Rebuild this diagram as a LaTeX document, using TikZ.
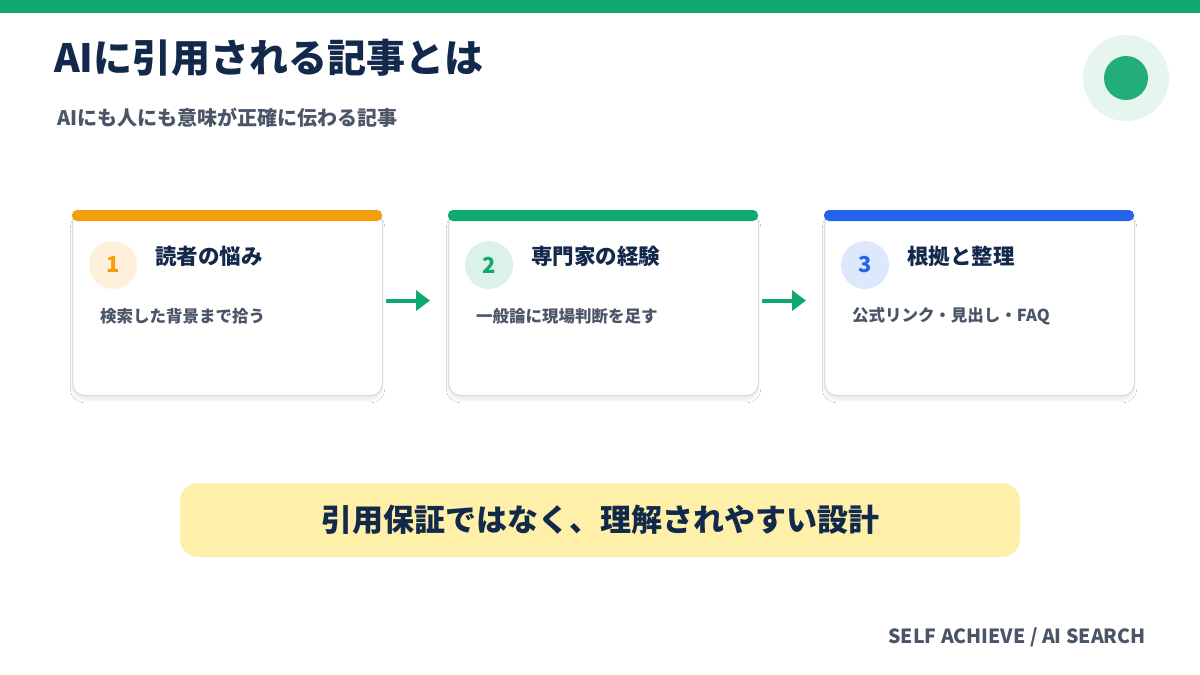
\documentclass[tikz,border=0pt]{standalone}
\usepackage{fontspec}
\setmainfont{Noto Sans CJK JP}
\usetikzlibrary{arrows.meta,shadows.blur}
\definecolor{navy}{HTML}{13294B}
\definecolor{gtext}{HTML}{4A5568}
\definecolor{grn}{HTML}{0FA86E}
\definecolor{org}{HTML}{F59E0B}
\definecolor{blu}{HTML}{2563EB}
\definecolor{bord}{HTML}{D5DDE8}
\definecolor{ban}{HTML}{FEF0A8}
\definecolor{decl}{HTML}{E6F6EE}
\definecolor{decd}{HTML}{22AE78}
\tikzset{
 card/.style={draw=bord,line width=1.2pt,fill=white,rounded corners=12pt,minimum width=310pt,minimum height=185pt,anchor=north west,blur shadow={shadow blur steps=12,shadow xshift=0pt,shadow yshift=-5pt,shadow opacity=7}},
 num/.style={circle,minimum size=48pt,inner sep=0pt,font=\bfseries\fontsize{22}{22}\selectfont},
 head/.style={anchor=west,text=navy,font=\bfseries\fontsize{21.5}{22}\selectfont,inner sep=0pt},
 desc/.style={anchor=west,text=gtext,font=\bfseries\fontsize{16.5}{17}\selectfont,inner sep=0pt},
 flow/.style={draw=grn,line width=4pt,-{Triangle[length=14pt,width=20pt]}},
}
\begin{document}
\begin{tikzpicture}[x=1pt,y=-1pt]
\useasboundingbox (0,0) rectangle (1200,675);
\fill[white] (0,0) rectangle (1200,675);
\fill[grn] (0,0) rectangle (1200,13);
\node[anchor=west,text=navy,font=\bfseries\fontsize{39}{39}\selectfont,inner sep=0pt] (title) at (54,58) {AIに引用される記事とは};
\node[anchor=west,text=gtext,font=\bfseries\fontsize{20}{20}\selectfont,inner sep=0pt] (sub) at (57,118) {AIにも人にも意味が正確に伝わる記事};
\node[circle,fill=decl,minimum size=86pt,inner sep=0pt] (dec) at (1126,78) {};
\node[circle,fill=decd,minimum size=44pt,inner sep=0pt] at (dec) {};
\foreach \i/\x/\c/\h/\d in {1/72/org/読者の悩み/検索した背景まで拾う,2/448/grn/専門家の経験/一般論に現場判断を足す,3/824/blu/根拠と整理/公式リンク・見出し・FAQ}{
 \node[card] (c\i) at (\x,210) {};
 \fill[\c,rounded corners=5pt] (\x,210) rectangle ++(310,11);
 \node[num,fill=\c!15,text=\c] (n\i) at (\x+41,265) {\i};
 \node[head] (h\i) at (\x+83,256) {\h};
 \node[desc] (d\i) at (\x+28,316) {\d};
}
\draw[flow] ([xshift=3pt,yshift=2.5pt]c1.east) -- ([xshift=-18pt,yshift=2.5pt]c2.west);
\draw[flow] ([xshift=3pt,yshift=2.5pt]c2.east) -- ([xshift=-18pt,yshift=2.5pt]c3.west);
\node[fill=ban,rounded corners=18pt,minimum width=840pt,minimum height=74pt,text=navy,font=\bfseries\fontsize{31}{31}\selectfont] (banner) at (600,520) {引用保証ではなく、理解されやすい設計};
\node[anchor=east,text=gtext,font=\bfseries\fontsize{19.5}{20}\selectfont,inner sep=0pt] (foot) at (1146,637) {SELF ACHIEVE / AI SEARCH};
\end{tikzpicture}
\end{document}
